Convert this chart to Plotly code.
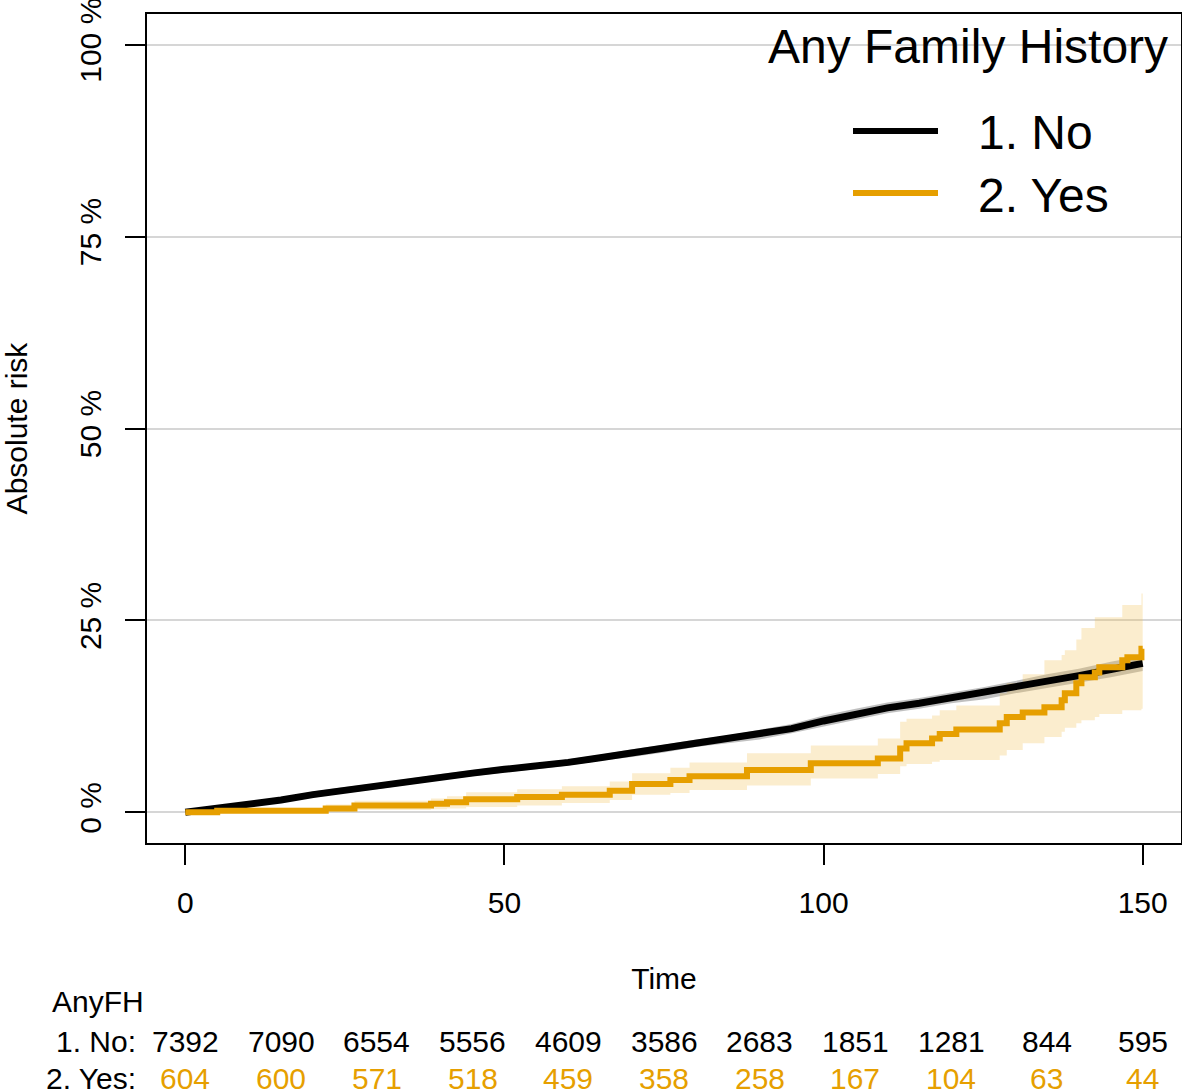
import plotly.graph_objects as go

# ---- data ----
groups = ["1. No", "2. Yes"]
colors = ["#000000", "#E69F00"]

no_time = [0, 5, 10, 15, 20, 25, 30, 35, 40, 45, 50, 55, 60, 65, 70, 75, 80, 85, 90,
           95, 100, 105, 110, 115, 120, 125, 130, 135, 140, 145, 150]
no_est = [0, 0.5, 1.0, 1.6, 2.3, 2.9, 3.4, 4.0, 4.6, 5.1, 5.6, 6.0, 6.5, 7.1, 7.7, 8.3,
          9.0, 9.5, 10.1, 10.9, 11.9, 12.8, 13.6, 14.2, 14.9, 15.5, 16.3, 17.1, 17.8,
          18.6, 19.4]
no_lo = [0, 0.3, 0.7, 1.3, 1.9, 2.5, 3.0, 3.6, 4.2, 4.7, 5.2, 5.6, 6.1, 6.7, 7.2, 7.8,
         8.5, 9.0, 9.5, 10.3, 11.2, 12.1, 12.9, 13.5, 14.2, 14.7, 15.5, 16.2, 16.9,
         17.6, 18.4]
no_hi = [0, 0.7, 1.3, 1.9, 2.7, 3.3, 3.8, 4.4, 5.0, 5.5, 6.0, 6.4, 6.9, 7.5, 8.2, 8.8,
         9.5, 10.0, 10.7, 11.5, 12.6, 13.5, 14.3, 14.9, 15.6, 16.3, 17.1, 18.0, 18.7,
         19.6, 20.4]

yes_time = [0, 5, 22, 26.5, 38.5, 41, 44, 52, 59, 66.5, 70, 76, 79, 88, 98, 108.5,
            112, 113, 117, 118.2, 120.8, 127.6, 128.7, 131.2, 134.6, 137.3, 137.8,
            139.6, 140.4, 142.5, 143.2, 146.8, 147.6, 149.8, 150]
yes_est = [0, 0.2, 0.5, 0.9, 1.1, 1.3, 1.7, 2.0, 2.3, 2.8, 3.7, 4.2, 4.7, 5.5, 6.4, 7.0,
           8.3, 9.0, 9.6, 10.2, 10.8, 11.6, 12.4, 13.0, 13.7, 14.6, 15.5, 16.8, 17.6,
           18.2, 18.9, 19.8, 20.2, 21.3, 21.3]
yes_lo = [0, 0, 0.1, 0.3, 0.4, 0.5, 0.7, 0.9, 1.2, 1.6, 2.3, 2.5, 2.9, 3.5, 4.4, 5.0,
          6.0, 6.3, 6.6, 6.8, 6.8, 7.4, 8.1, 9.0, 9.8, 10.5, 11.0, 11.6, 12.0, 12.4,
          12.8, 13.3, 13.3, 13.5, 13.5]
yes_hi = [0, 0.6, 1.0, 1.5, 1.8, 2.1, 2.6, 3.0, 3.4, 4.0, 5.1, 5.8, 6.5, 7.7, 8.7, 9.6,
          11.8, 12.2, 12.6, 13.3, 13.9, 15.5, 16.8, 18.0, 19.8, 20.5, 21.1, 22.5, 24.0,
          25.4, 25.4, 27.0, 27.0, 28.5, 28.5]

risk_times = [0, 15, 30, 45, 60, 75, 90, 105, 120, 135, 150]
risk_no = [7392, 7090, 6554, 5556, 4609, 3586, 2683, 1851, 1281, 844, 595]
risk_yes = [604, 600, 571, 518, 459, 358, 258, 167, 104, 63, 44]

x_ticks = [0, 50, 100, 150]
y_ticks = [0, 25, 50, 75, 100]
y_ticktext = ["0 %", "25 %", "50 %", "75 %", "100 %"]

legend_title = "Any Family History"
table_title = "AnyFH"

FONT = "Liberation Sans, Arial, Helvetica, sans-serif"

fig = go.Figure()

# CI bands
fig.add_trace(go.Scatter(x=no_time, y=no_lo, mode="lines", line=dict(width=0),
                         hoverinfo="skip", showlegend=False))
fig.add_trace(go.Scatter(x=no_time, y=no_hi, mode="lines", line=dict(width=0),
                         fill="tonexty", fillcolor="rgba(150,150,150,0.6)",
                         hoverinfo="skip", showlegend=False))
fig.add_trace(go.Scatter(x=yes_time, y=yes_lo, mode="lines", line=dict(width=0, shape="hv"),
                         hoverinfo="skip", showlegend=False))
fig.add_trace(go.Scatter(x=yes_time, y=yes_hi, mode="lines", line=dict(width=0, shape="hv"),
                         fill="tonexty", fillcolor="rgba(240,190,80,0.28)",
                         hoverinfo="skip", showlegend=False))

# curves
fig.add_trace(go.Scatter(x=no_time, y=no_est, mode="lines", name=groups[0],
                         line=dict(color=colors[0], width=7), showlegend=False))
fig.add_trace(go.Scatter(x=yes_time, y=yes_est, mode="lines", name=groups[1],
                         line=dict(color=colors[1], width=6, shape="hv"), showlegend=False))

W, H = 1182, 1091
ml, mr, mt, mb = 147, 1, 14, 248
pw, ph = W - ml - mr, H - mt - mb


def px(xp):
    return (xp - ml) / pw


def py(yp):
    return (H - mb - yp) / ph


annotations = []
# legend (drawn manually)
annotations.append(dict(text=legend_title, xref="paper", yref="paper", x=px(1170), y=py(47),
                        xanchor="right", yanchor="middle", showarrow=False,
                        font=dict(size=48, color="black", family=FONT)))
shapes = []
for i, (g, c) in enumerate(zip(groups, colors)):
    yy = [131, 193][i]
    shapes.append(dict(type="line", xref="paper", yref="paper", x0=px(853), x1=px(938),
                       y0=py(yy), y1=py(yy), line=dict(color=c, width=6)))
    annotations.append(dict(text=g, xref="paper", yref="paper", x=px(976), y=py(yy + 2),
                            xanchor="left", yanchor="middle", showarrow=False,
                            font=dict(size=48, color="black", family=FONT)))

# risk table
annotations.append(dict(text=table_title, xref="paper", yref="paper", x=px(50), y=py(1002),
                        xanchor="left", yanchor="middle", showarrow=False,
                        font=dict(size=30, color="black", family=FONT)))
for i, (g, c, row) in enumerate(zip(groups, colors, [risk_no, risk_yes])):
    yy = [1041, 1078][i]
    annotations.append(dict(text=g + ":", xref="paper", yref="paper", x=px(138), y=py(yy),
                            xanchor="right", yanchor="middle", showarrow=False,
                            font=dict(size=30, color="black", family=FONT)))
    for t, n in zip(risk_times, row):
        annotations.append(dict(text=str(n), xref="x", yref="paper", x=t, y=py(yy),
                                xanchor="center", yanchor="middle", showarrow=False,
                                font=dict(size=30, color=c, family=FONT)))

fig.update_layout(
    width=W, height=H,
    margin=dict(l=ml, r=mr, t=mt, b=mb, autoexpand=False),
    paper_bgcolor="white", plot_bgcolor="white",
    font=dict(family=FONT, color="black", size=30),
    showlegend=False,
    annotations=annotations,
    shapes=shapes,
    xaxis=dict(range=[-6, 156], tickvals=x_ticks, ticks="outside", ticklen=20,
               tickwidth=1.5, tickcolor="black", showline=True, mirror=True,
               linecolor="black", linewidth=2, showgrid=False, zeroline=False,
               automargin=False, ticklabeloverflow="allow",
               tickfont=dict(size=30), ticklabelstandoff=12,
               title=dict(text="Time", font=dict(size=30), standoff=50)),
    yaxis=dict(range=[-4, 104], tickvals=y_ticks, ticktext=y_ticktext, tickangle=-90,
               ticks="outside", ticklen=20, tickwidth=1.5, tickcolor="black",
               showline=True, mirror=True, linecolor="black", linewidth=2,
               showgrid=True, gridcolor="#D6D6D6", gridwidth=1.5, zeroline=False,
               automargin=False, ticklabeloverflow="allow",
               tickfont=dict(size=30), ticklabelstandoff=12,
               title=dict(text="Absolute risk", font=dict(size=30), standoff=60)),
)

fig.write_html("out.html", config={"displayModeBar": False},
               post_script="document.body.style.margin='0';document.body.style.overflow='hidden';")
